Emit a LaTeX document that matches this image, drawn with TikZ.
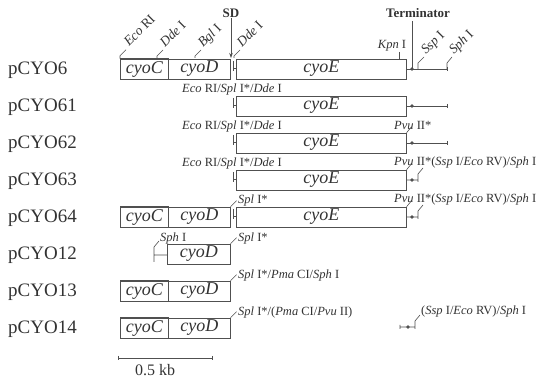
\documentclass[tikz,border=0pt]{standalone}
\usepackage{fontspec}
\setmainfont{Liberation Serif}
\usetikzlibrary{arrows.meta}
\definecolor{ink}{HTML}{333333}
\definecolor{lnc}{HTML}{505050}
\newcommand\CDpair[2]{%
  \node[gbox, minimum width=48pt, anchor=west] (C#1) at (120,#2) {cyoC};
  \draw[ln] (C#1.north west) -- (C#1.north east) (C#1.south west) -- (C#1.south east);
  \draw[ln, densely dotted] (C#1.north west) -- (C#1.south west);
  \node[gbox, draw, minimum width=62pt, anchor=west] (D#1) at (168,#2) {cyoD};
}
\newcommand\Ebox[2]{%
  \node[gbox, draw, minimum width=170pt, anchor=west] (E#1) at (236,#2) {cyoE};
  \coordinate (B#1) at (233,{#2-1});
  \draw[ln] (233,{#2-8}) -- (233,{#2+2}) (B#1) -- (E#1.west |- B#1);
}
\newcommand\Tline[2]{% full terminator line
  \coordinate (T#1) at (412,#2);
  \coordinate (Z#1) at (447,#2);
  \draw[ln] (E#1.east) -- (Z#1) (447,{#2-2}) -- (447,{#2+2});
  \fill[lnc] (T#1) circle (1.8pt);
}
\newcommand\Sline[2]{% short terminator with leader
  \coordinate (T#1) at (412,#2);
  \coordinate (S#1) at (418,#2);
  \draw[ln] (E#1.east) -- (S#1) (418,{#2+2}) -- (418,{#2-6}) -- (423,{#2-12});
  \fill[lnc] (T#1) circle (1.8pt);
  \draw[ln] (E#1.north east) -- ++(5,-6);
  \node[enz, anchor=west] (R#1) at (394,{#2-18}) {\textit{Pvu} II*(\textit{Ssp} I/\textit{Eco} RV)/\textit{Sph} I};
}
\begin{document}
\begin{tikzpicture}[x=1pt, y=-1pt,
  ln/.style={draw=lnc, line width=0.6pt},
  gbox/.style={ln, inner sep=0pt, minimum height=20pt, text=ink,
    font=\fontsize{18}{20}\selectfont\itshape},
  plas/.style={anchor=west, inner sep=0pt, text=ink, font=\fontsize{19}{21}\selectfont},
  enz/.style={inner sep=0pt, text=ink, font=\fontsize{12.5}{14}\selectfont},
  renz/.style={enz, font=\fontsize{13.5}{15}\selectfont, rotate=45, anchor=base west},
  bold/.style={inner sep=0pt, text=ink, font=\fontsize{13}{15}\selectfont\bfseries}]
\useasboundingbox[fill=white] (0,0) rectangle (539,379);

% plasmid names
\node[plas] (p6)  at (8,70)  {pCYO6};
\node[plas] (p61) at (8,107) {pCYO61};
\node[plas] (p62) at (8,144) {pCYO62};
\node[plas] (p63) at (8,181) {pCYO63};
\node[plas] (p64) at (8,218) {pCYO64};
\node[plas] (p12) at (8,255) {pCYO12};
\node[plas] (p13) at (8,292) {pCYO13};
\node[plas] (p14) at (8,329) {pCYO14};

% ---------- pCYO6
\CDpair{6}{69}
\Ebox{6}{69}
\Tline{6}{69}
\node[bold] (sd) at (231,13) {SD};
\draw[ln, -{Stealth[length=5pt,width=3.5pt]}] (sd.south) -- (231,58);
\node[bold] (term) at (418,13) {Terminator};
\draw[ln] (412,21) -- (T6);
% top sites
\draw[ln] (C6.north west) -- ++(0,-3) -- ++(6,-6);
\node[renz] (eco) at (129,47) {\textit{Eco} RI};
\draw[ln] (157,58) -- ++(0,-2) -- ++(6,-6);
\node[renz] (dde1) at (165,48) {\textit{Dde} I};
\draw[ln] (195,58) -- ++(0,-2) -- ++(6,-6);
\node[renz] (bgl) at (203,48) {\textit{Bgl} I};
\draw[ln] (234,58) -- ++(0,-2) -- ++(6,-6);
\node[renz] (dde2) at (242,48) {\textit{Dde} I};
\node[enz] (kpn) at (392,46) {\textit{Kpn} I};
\draw[ln] (399,52) -- (399,59);
\draw[ln] (418,69) -- (418,63) -- (424,57);
\node[renz] (ssp) at (426,55) {\textit{Ssp} I};
\draw[ln] (447,69) -- (447,63) -- (452,57);
\node[renz] (sph) at (454,55) {\textit{Sph} I};

% ---------- pCYO61
\Ebox{61}{106}
\Tline{61}{106}
\node[enz, anchor=west] (l61) at (182,89) {\textit{Eco} RI/\textit{Spl} I*/\textit{Dde} I};

% ---------- pCYO62
\Ebox{62}{143}
\Tline{62}{143}
\node[enz, anchor=west] (l62) at (182,126) {\textit{Eco} RI/\textit{Spl} I*/\textit{Dde} I};
\draw[ln] (E62.north east) -- ++(5,-6);
\node[enz, anchor=west] (pvu62) at (394,125) {\textit{Pvu} II*};

% ---------- pCYO63
\Ebox{63}{180}
\Sline{63}{180}
\node[enz, anchor=west] (l63) at (182,163) {\textit{Eco} RI/\textit{Spl} I*/\textit{Dde} I};

% ---------- pCYO64
\CDpair{64}{217}
\Ebox{64}{217}
\Sline{64}{217}
\draw[ln] (D64.north east) -- ++(6,-6);
\node[enz, anchor=west] (l64) at (238,200) {\textit{Spl} I*};

% ---------- pCYO12
\node[gbox, draw, minimum width=63pt, anchor=west] (D12) at (167,254) {cyoD};
\coordinate (H12) at (154,255);
\draw[ln] (159,241) -- (154,247) -- (154,262) (H12) -- (D12.west |- H12);
\node[enz, anchor=west] (sph12) at (160,238) {\textit{Sph} I};
\draw[ln] (D12.north east) -- ++(6,-6);
\node[enz, anchor=west] (l12) at (238,238) {\textit{Spl} I*};

% ---------- pCYO13
\CDpair{13}{291}
\draw[ln] (D13.north east) -- ++(6,-6);
\node[enz, anchor=west] (l13) at (238,275) {\textit{Spl} I*/\textit{Pma} CI/\textit{Sph} I};

% ---------- pCYO14
\CDpair{14}{328}
\draw[ln] (D14.north east) -- ++(6,-6);
\node[enz, anchor=west] (l14) at (238,312) {\textit{Spl} I*/(\textit{Pma} CI/\textit{Pvu} II)};
\coordinate (F1) at (400,327);
\coordinate (F2) at (415,327);
\draw[ln] (F1) -- (F2) (400,325) -- (400,329) (415,329) -- (415,321) -- (420,315);
\fill[lnc] (408,327) circle (1.8pt);
\node[enz, anchor=west] (r14) at (421,311) {(\textit{Ssp} I/\textit{Eco} RV)/\textit{Sph} I};

% ---------- scale bar
\coordinate (s1) at (118,358);
\coordinate (s2) at (212,358);
\draw[ln] (s1) -- (s2) (118,356) -- (118,360) (212,356) -- (212,360);
\node[inner sep=0pt, text=ink, font=\fontsize{16}{18}\selectfont] (kb) at (155,370) {0.5 kb};
\end{tikzpicture}
\end{document}
